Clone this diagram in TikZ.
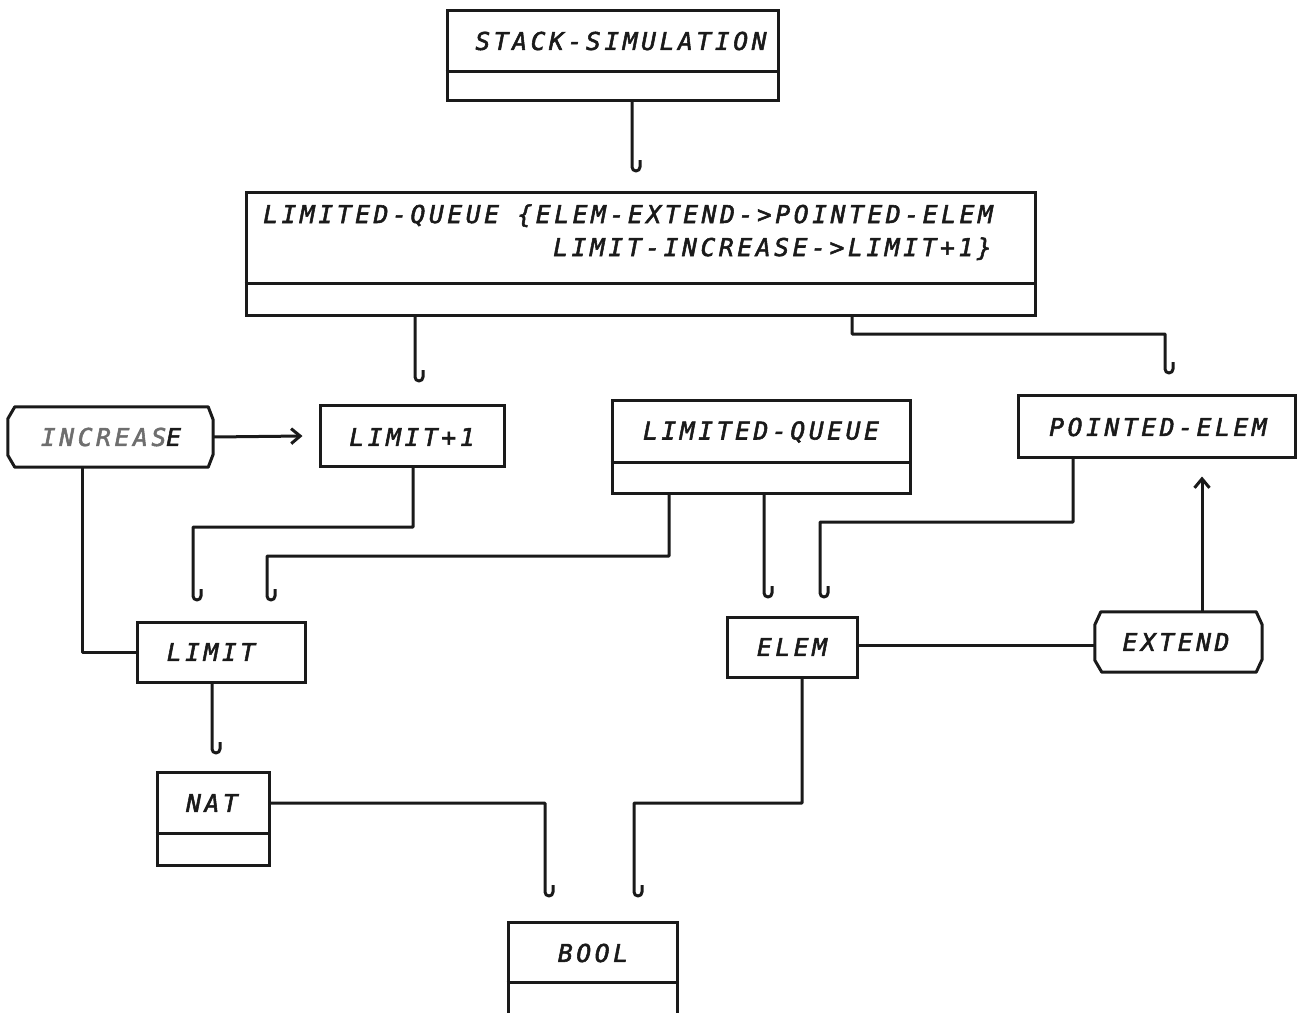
\documentclass[tikz,border=0pt]{standalone}
\usepackage{fontspec}
\newfontfamily\plotfont[LetterSpace=15,FakeBold=2.2]{DejaVu Sans Mono}
\usetikzlibrary{arrows.meta,calc}
\definecolor{ink}{HTML}{1a1a1a}
\definecolor{fade}{HTML}{6e6e6e}

\begin{document}
\begin{tikzpicture}[x=1pt,y=-1pt,
  box/.style={draw=ink,line width=3pt,inner sep=0pt,rectangle},
  frame/.style={inner sep=0pt,rectangle},
  edge/.style={draw=ink,line width=3pt},
  conn/.style={draw=ink,line width=3pt,line join=round},
  lbl/.style={font=\plotfont\itshape\fontsize{24.5}{28}\selectfont,text=ink,inner sep=0pt},
  barb/.style={-{Straight Barb[length=9pt,width=15pt]}}]
\useasboundingbox (0,0) rectangle (1297,1012);
\clip (0,0) rectangle (1297,1012);
\fill[white] (0,0) rectangle (1297,1012);

% ---- class boxes -------------------------------------------------
\node[box,minimum width=331pt,minimum height=90pt] (ss) at (612.5,55) {};
\draw[edge] (ss.west |- 0,71) -- (ss.east |- 0,71);
\node[lbl] (sst) at (621,41) {STACK-SIMULATION};

\node[box,minimum width=789pt,minimum height=123pt] (lqb) at (640.5,253.5) {};
\draw[edge] (lqb.west |- 0,283) -- (lqb.east |- 0,283);
\node[lbl,anchor=base west] (lqb1) at (263,223) {LIMITED-QUEUE \{ELEM-EXTEND->POINTED-ELEM};
\node[lbl,anchor=base west] (lqb2) at (553,256) {LIMIT-INCREASE->LIMIT+1\}};

\node[box,minimum width=184pt,minimum height=61pt] (lp1) at (412,436) {};
\node[lbl] (lp1t) at (412,437) {LIMIT+1};

\node[box,minimum width=298pt,minimum height=93pt] (lqs) at (761,446.5) {};
\draw[edge] (lqs.west |- 0,462) -- (lqs.east |- 0,462);
\node[lbl] (lqst) at (761,432) {LIMITED-QUEUE};

\node[box,minimum width=277pt,minimum height=62pt] (pe) at (1156.5,426) {};
\node[lbl] (pet) at (1158,427) {POINTED-ELEM};

\node[box,minimum width=168pt,minimum height=60pt] (lim) at (221,652) {};
\node[lbl] (limt) at (211,652) {LIMIT};

\node[box,minimum width=130pt,minimum height=60pt] (elem) at (792,647) {};
\node[lbl] (elemt) at (792,647) {ELEM};

\node[box,minimum width=112pt,minimum height=93pt] (nat) at (213,818.5) {};
\draw[edge] (nat.west |- 0,833) -- (nat.east |- 0,833);
\node[lbl] (natt) at (212,803) {NAT};

\node[box,minimum width=169pt,minimum height=120pt] (bool) at (592.5,982) {};
\draw[edge] (bool.west |- 0,982) -- (bool.east |- 0,982);
\node[lbl] (boolt) at (593,953) {BOOL};

% ---- operation boxes (chamfered ends) ----------------------------
\node[frame,minimum width=205pt,minimum height=60pt] (inc) at (110.5,437) {};
\draw[edge,line join=round]
  ($(inc.north west)+(7,0)$) -- ($(inc.north east)+(-5,0)$) --
  ($(inc.north east)+(0,13)$) -- ($(inc.south east)+(0,-13)$) --
  ($(inc.south east)+(-5,0)$) -- ($(inc.south west)+(7,0)$) --
  ($(inc.south west)+(0,-12)$) -- ($(inc.north west)+(0,12)$) -- cycle;
\node[lbl] (inct) at (111,437) {\textcolor{fade}{INCREAS}E};

\node[frame,minimum width=167pt,minimum height=60pt] (ext) at (1178.5,642) {};
\draw[edge,line join=round]
  ($(ext.north west)+(6,0)$) -- ($(ext.north east)+(-6,0)$) --
  ($(ext.north east)+(0,13)$) -- ($(ext.south east)+(0,-13)$) --
  ($(ext.south east)+(-6,0)$) -- ($(ext.south west)+(7,0)$) --
  ($(ext.south west)+(0,-12)$) -- ($(ext.north west)+(0,13)$) -- cycle;
\node[lbl] (extt) at (1176,642) {EXTEND};

% ---- use connectors, each ending in a hook -----------------------
\draw[conn] (632,0 |- ss.south) -- (632,167)
  arc[start angle=180,end angle=360,radius=4pt] -- ++(0pt,7pt);
\draw[conn] (415,0 |- lqb.south) -- (415,377)
  arc[start angle=180,end angle=360,radius=4pt] -- ++(0pt,7pt);
\draw[conn] (852,0 |- lqb.south) -- (852,334) -- (1165,334) -- (1165,369)
  arc[start angle=180,end angle=360,radius=4pt] -- ++(0pt,7pt);
\draw[conn] (413,0 |- lp1.south) -- (413,527) -- (193,527) -- (193,596)
  arc[start angle=180,end angle=360,radius=4pt] -- ++(0pt,7pt);
\draw[conn] (669,0 |- lqs.south) -- (669,556) -- (267,556) -- (267,596)
  arc[start angle=180,end angle=360,radius=4pt] -- ++(0pt,7pt);
\draw[conn] (764,0 |- lqs.south) -- (764,593)
  arc[start angle=180,end angle=360,radius=4pt] -- ++(0pt,7pt);
\draw[conn] (1073,0 |- pe.south) -- (1073,522) -- (820,522) -- (820,593)
  arc[start angle=180,end angle=360,radius=4pt] -- ++(0pt,7pt);
\draw[conn] (212,0 |- lim.south) -- (212,749)
  arc[start angle=180,end angle=360,radius=4pt] -- ++(0pt,7pt);
\draw[conn] (nat.east |- 0,803) -- (545,803) -- (545,892)
  arc[start angle=180,end angle=360,radius=4pt] -- ++(0pt,7pt);
\draw[conn] (802,0 |- elem.south) -- (802,803) -- (634,803) -- (634,892)
  arc[start angle=180,end angle=360,radius=4pt] -- ++(0pt,7pt);

% ---- plain links -------------------------------------------------
\draw[conn] (82,0 |- inc.south) -- (82,652) -- (lim.west);
\draw[conn] (elem.east |- 0,645) -- (ext.west |- 0,645);

% ---- arrows ------------------------------------------------------
\draw[conn,barb] (inc.east) -- ([xshift=-16pt]lp1.west);
\draw[conn,barb] (1202,0 |- ext.north) -- ([yshift=-18pt]pe.south -| 1202,0);
\end{tikzpicture}
\end{document}
